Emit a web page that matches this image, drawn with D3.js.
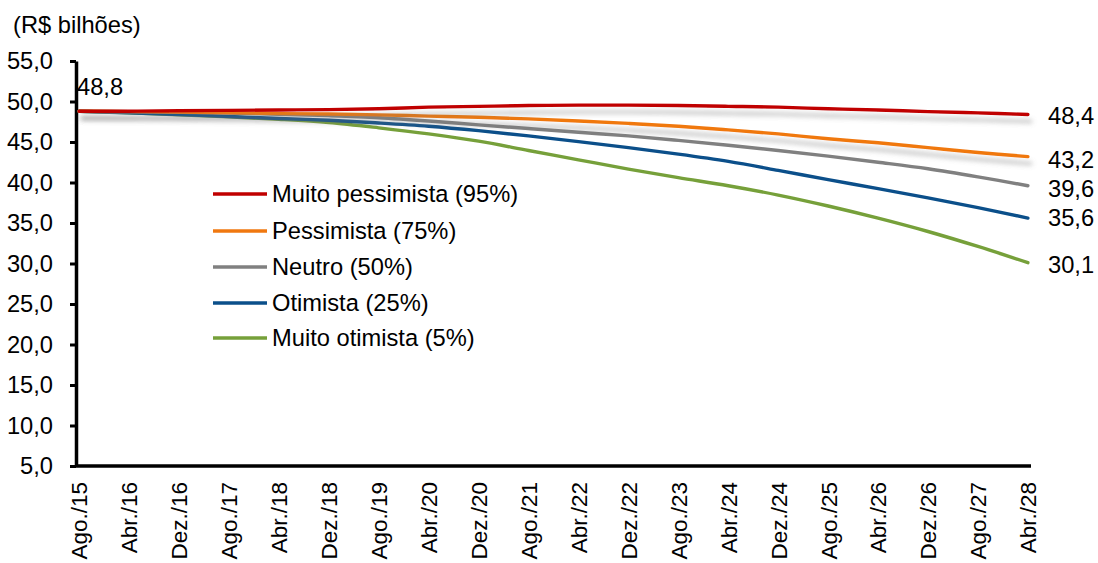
<!DOCTYPE html>
<html>
<head>
<meta charset="utf-8">
<script src="https://cdn.jsdelivr.net/npm/d3@7/dist/d3.min.js"></script>
<style>
  html, body { margin: 0; padding: 0; background: #fff; }
  svg { display: block; font-family: "Liberation Sans", Arial, sans-serif; }
</style>
</head>
<body>
<svg id="chart" width="1098" height="563"></svg>
<script>
// Category labels (every 8 months, Aug 2015 – Apr 2028)
const months = ["Ago./15","Abr./16","Dez./16","Ago./17","Abr./18","Dez./18","Ago./19","Abr./20","Dez./20","Ago./21",
                "Abr./22","Dez./22","Ago./23","Abr./24","Dez./24","Ago./25","Abr./26","Dez./26","Ago./27","Abr./28"];

// Projected values (R$ bilhões) per scenario
const muitoPessimista = [48.8,48.8,48.85,48.9,48.95,49.0,49.1,49.3,49.4,49.5,49.55,49.55,49.5,49.4,49.3,49.1,48.95,48.75,48.6,48.4];
const pessimista      = [48.8,48.75,48.7,48.6,48.5,48.45,48.35,48.2,48.05,47.85,47.6,47.3,46.95,46.5,46.0,45.4,44.9,44.3,43.7,43.2];
const neutro          = [48.8,48.75,48.67,48.57,48.43,48.25,48.0,47.6,47.12,46.66,46.2,45.75,45.2,44.6,43.95,43.25,42.5,41.7,40.7,39.6];
const otimista        = [48.8,48.6,48.4,48.15,47.9,47.68,47.35,46.95,46.4,45.75,45.05,44.3,43.5,42.6,41.5,40.35,39.25,38.1,36.9,35.6];
const muitoOtimista   = [48.8,48.6,48.37,48.1,47.8,47.4,46.75,46.0,45.1,43.95,42.8,41.65,40.6,39.6,38.45,37.1,35.6,33.95,32.1,30.1];

const seriesNames  = ["Muito pessimista (95%)","Pessimista (75%)","Neutro (50%)","Otimista (25%)","Muito otimista (5%)"];
const seriesValues = [muitoPessimista, pessimista, neutro, otimista, muitoOtimista];
const seriesColors = ["#C00000","#F07810","#808080","#0B4F8A","#76A03A"];
const seriesShadow = [true, true, false, false, false];

const yTicks = [5,10,15,20,25,30,35,40,45,50,55];

const svg = d3.select("#chart");
const fmt = v => v.toFixed(1).replace(".", ",");
const FONT = 23.7;
const XFONT = 22.5;

const x = d3.scalePoint().domain(months).range([76, 1031]).padding(0.0625);
const y = d3.scaleLinear().domain([5, 55]).range([466, 61]);

// soft shadow under the upper scenario lines
const defs = svg.append("defs");
const f = defs.append("filter").attr("id", "shadow")
  .attr("x", "-5%").attr("y", "-50%").attr("width", "110%").attr("height", "300%");
f.append("feDropShadow").attr("dx", 3).attr("dy", 7).attr("stdDeviation", 2.5)
  .attr("flood-color", "#777").attr("flood-opacity", 0.45);

// unit title
svg.append("text").attr("x", 13).attr("y", 33).attr("font-size", FONT).text("(R$ bilhões)");

// y axis
const yAxis = d3.axisLeft(y).tickValues(yTicks).tickFormat(fmt).tickSize(6).tickSizeOuter(0);
const gy = svg.append("g").attr("transform", "translate(76,0)").call(yAxis);
gy.select(".domain").attr("stroke", "#000").attr("stroke-width", 3.5);
gy.selectAll(".tick line").attr("stroke", "#000").attr("stroke-width", 3);
gy.selectAll(".tick text").attr("font-size", FONT).attr("font-family", "Liberation Sans, Arial, sans-serif")
  .attr("fill", "#000").attr("x", -23);

// x axis
const xAxis = d3.axisBottom(x).tickSize(0).tickSizeOuter(0);
const gx = svg.append("g").attr("transform", "translate(0,466)").call(xAxis);
gx.select(".domain").attr("stroke", "#000").attr("stroke-width", 3.5).attr("d", "M76,0H1031");
gx.selectAll(".tick text")
  .attr("font-size", XFONT).attr("font-family", "Liberation Sans, Arial, sans-serif").attr("fill", "#000")
  .attr("text-anchor", "end").attr("dy", "0.35em")
  .attr("transform", "translate(0,16) rotate(-90)").attr("x", 0).attr("y", 0);

// scenario lines
const line = d3.line().x((d, i) => x(months[i])).y(d => y(d)).curve(d3.curveCatmullRom.alpha(0.5));
// draw bottom series first so the upper ones sit on top
for (let k = seriesValues.length - 1; k >= 0; k--) {
  svg.append("path").datum(seriesValues[k])
    .attr("d", line).attr("fill", "none")
    .attr("stroke", seriesColors[k]).attr("stroke-width", 3.4)
    .attr("stroke-linejoin", "round").attr("stroke-linecap", "round")
    .attr("filter", seriesShadow[k] ? "url(#shadow)" : null);
}

// starting value label
svg.append("text").attr("x", 77).attr("y", 95).attr("font-size", FONT).text(fmt(muitoPessimista[0]));

// end value labels
const endOffsets = [1, 3, 3, 0, 2];
seriesValues.forEach((vals, k) => {
  const v = vals[vals.length - 1];
  svg.append("text").attr("x", 1048).attr("y", y(v) + endOffsets[k])
    .attr("dy", "0.35em").attr("font-size", FONT).text(fmt(v));
});

// legend
const legendY = [194, 231, 267, 303, 338];
seriesNames.forEach((name, k) => {
  const g = svg.append("g").attr("transform", `translate(0,${legendY[k]})`);
  g.append("line").attr("x1", 213).attr("x2", 267).attr("y1", 0).attr("y2", 0)
    .attr("stroke", seriesColors[k]).attr("stroke-width", 3.4);
  g.append("text").attr("x", 272).attr("dy", "0.35em").attr("font-size", FONT).text(name);
});
</script>
</body>
</html>
